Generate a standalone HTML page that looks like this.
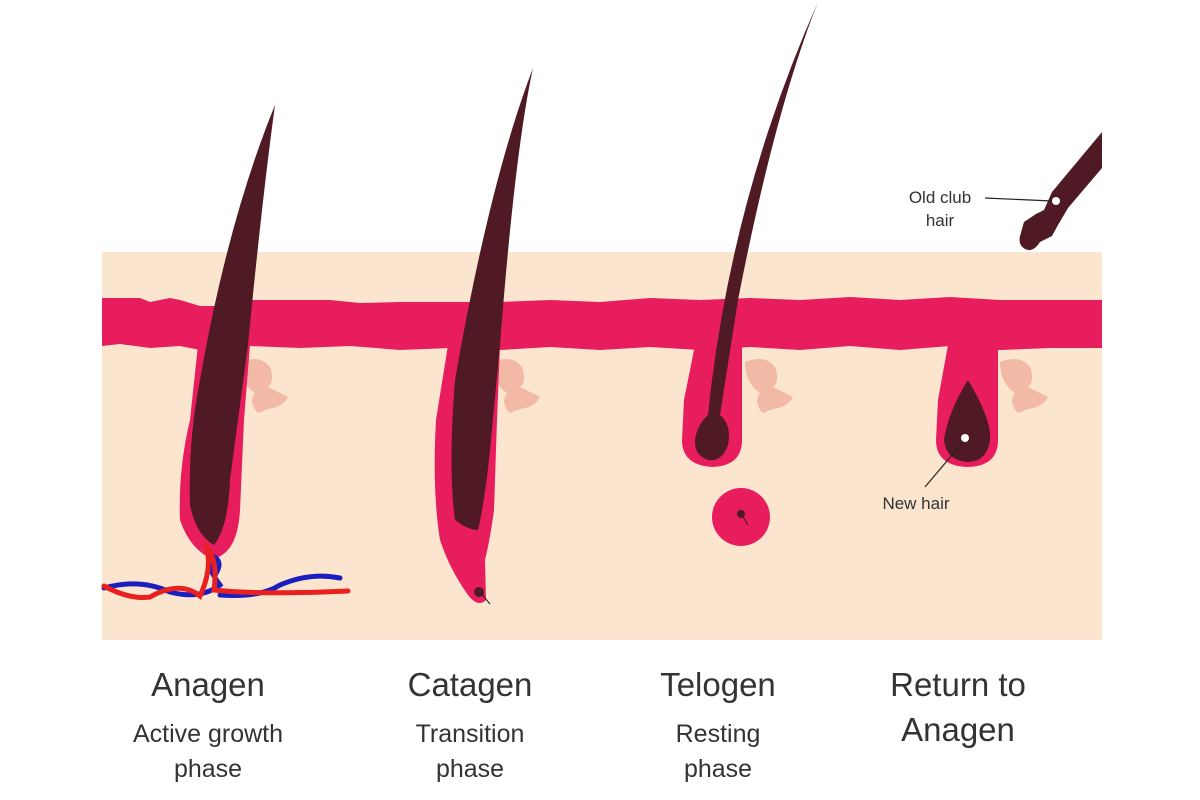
<!DOCTYPE html>
<html><head><meta charset="utf-8"><style>
html,body{margin:0;padding:0;background:#fff;}
svg{display:block}
text{font-family:"Liberation Sans","DejaVu Sans",sans-serif;fill:#333}
</style></head><body>
<svg width="1200" height="800" viewBox="0 0 1200 800" xmlns="http://www.w3.org/2000/svg">
<rect x="0" y="0" width="1200" height="800" fill="#fff"/>
<rect x="102" y="252" width="1000" height="388" fill="#fce5cf"/>
<!-- sebaceous glands -->
<g fill="#f1b9a6">
<path d="M240 362 q20 -8 30 5 q5 15 -2 20 l20 10 q-5 10 -20 12 l-10 4 q-10 -10 -3 -20 q-15 -10 -15 -31z"/>
<path d="M492 362 q20 -8 30 5 q5 15 -2 20 l20 10 q-5 10 -20 12 l-10 4 q-10 -10 -3 -20 q-15 -10 -15 -31z"/>
<path d="M745 362 q20 -8 30 5 q5 15 -2 20 l20 10 q-5 10 -20 12 l-10 4 q-10 -10 -3 -20 q-15 -10 -15 -31z"/>
<path d="M1000 362 q20 -8 30 5 q5 15 -2 20 l20 10 q-5 10 -20 12 l-10 4 q-10 -10 -3 -20 q-15 -10 -15 -31z"/>
</g>
<!-- pink band -->
<path fill="#e81d5e" d="M102 298 L140 298 L150 302 L170 298 L180 300 L200 306 L230 306 L250 300 L300 300 L330 300 L360 303 L400 302 L450 302 L500 302 L550 300 L600 302 L650 298 L700 300 L750 298 L800 300 L850 297 L900 300 L950 297 L1000 300 L1050 300 L1102 300 L1102 348 L1050 348 L1000 350 L950 346 L900 350 L850 346 L800 350 L750 347 L700 350 L650 347 L600 350 L550 347 L500 350 L450 348 L400 350 L350 346 L300 348 L250 346 L200 350 L180 346 L150 348 L120 344 L102 346 Z"/>
<!-- Anagen follicle -->
<path fill="#e81d5e" d="M198 345 L250 345 L244 420 L240 510 Q238 545 222 555 L214 560 Q190 550 180 520 Q178 470 190 420 Z"/>
<path fill="#4f1a24" d="M275 105 Q262 200 248 345 L230 480 Q228 528 214 545 Q196 535 190 505 Q188 440 200 380 Q228 220 275 105Z"/>
<!-- blood vessels -->
<g fill="none" stroke-width="5" stroke-linecap="round">
<path stroke="#1b1fc0" d="M104 588 Q140 578 170 592 Q200 600 220 585 Q205 565 210 555 Q225 560 215 575 M220 595 Q260 598 280 585 Q310 572 340 578"/>
<path stroke="#e82020" d="M104 586 Q130 600 150 597 Q180 580 200 596 Q212 570 207 548 Q218 560 214 590 Q260 595 348 591"/>
</g>
<!-- Catagen follicle -->
<path fill="#e81d5e" d="M448 345 L500 345 L497 420 L494 510 Q490 540 485 560 L486 600 Q478 608 468 595 Q450 570 440 540 Q432 490 436 420 Z"/>
<path fill="#4f1a24" d="M533 68 Q515 150 500 345 L490 450 Q485 500 478 530 Q468 530 455 520 Q448 470 455 380 Q490 180 533 68Z"/>
<circle cx="479" cy="592" r="5" fill="#4f1a24"/>
<line x1="480" y1="592" x2="490" y2="604" stroke="#222" stroke-width="1"/>
<!-- Telogen follicle -->
<path fill="#e81d5e" d="M695 345 L742 345 L742 440 Q742 466 712 467 Q682 465 682 440 L684 400 Z"/>
<path fill="#4f1a24" d="M818 2 Q775 110 738 300 L720 415 Q732 425 728 445 Q722 462 708 460 Q694 455 695 440 Q697 425 708 415 Q730 200 818 2Z"/>
<circle cx="741" cy="517" r="29" fill="#e81d5e"/>
<circle cx="741" cy="514" r="4" fill="#4f1a24"/>
<line x1="742" y1="515" x2="748" y2="525" stroke="#4f1a24" stroke-width="1.2"/>
<!-- Return to Anagen -->
<path fill="#e81d5e" d="M948 345 L998 345 L998 440 Q998 467 966 467 Q936 465 936 440 L938 400 Z"/>
<path fill="#4f1a24" d="M968 380 Q992 420 990 440 Q987 462 967 462 Q946 460 944 440 Q948 412 968 380Z"/>
<circle cx="965" cy="438" r="4" fill="#fff"/>
<line x1="963" y1="442" x2="925" y2="487" stroke="#222" stroke-width="1.2"/>
<!-- old club hair -->
<path fill="#4f1a24" d="M1102 132 L1102 168 L1068 208 L1058 225 L1052 236 L1040 242 Q1033 253 1025 249 Q1018 245 1020 236 L1024 222 L1036 214 L1044 210 L1052 192 Z"/>
<circle cx="1056" cy="201" r="4" fill="#fff"/>
<line x1="985" y1="198" x2="1052" y2="201" stroke="#222" stroke-width="1.2"/>
<text x="940" y="203" font-size="17" text-anchor="middle">Old club</text>
<text x="940" y="226" font-size="17" text-anchor="middle">hair</text>
<text x="916" y="509" font-size="17" text-anchor="middle">New hair</text>
<!-- labels -->
<g text-anchor="middle">
<text x="208" y="696" font-size="33">Anagen</text>
<text x="208" y="742" font-size="25">Active growth</text>
<text x="208" y="777" font-size="25">phase</text>
<text x="470" y="696" font-size="33">Catagen</text>
<text x="470" y="742" font-size="25">Transition</text>
<text x="470" y="777" font-size="25">phase</text>
<text x="718" y="696" font-size="33">Telogen</text>
<text x="718" y="742" font-size="25">Resting</text>
<text x="718" y="777" font-size="25">phase</text>
<text x="958" y="696" font-size="33">Return to</text>
<text x="958" y="741" font-size="33">Anagen</text>
</g>
</svg>
</body></html>
